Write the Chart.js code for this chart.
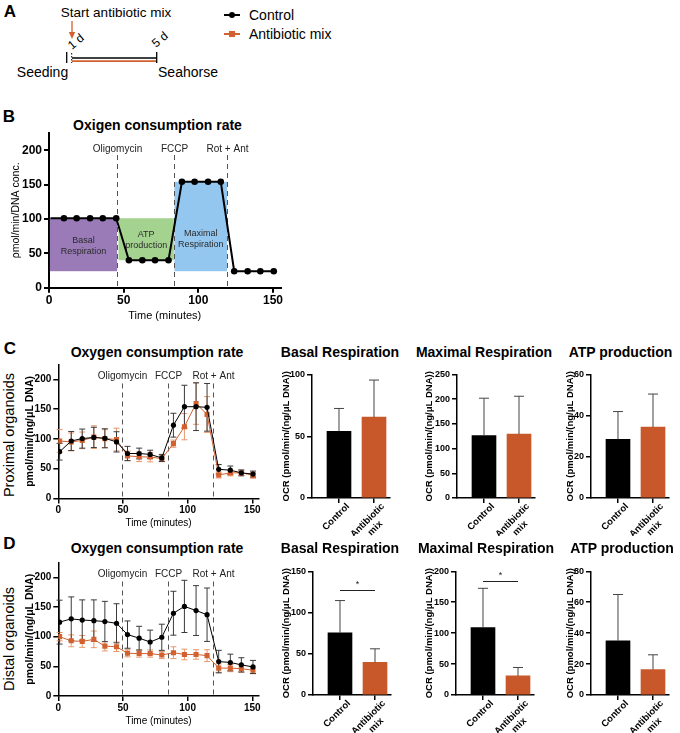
<!DOCTYPE html>
<html>
<head>
<meta charset="utf-8">
<title>Oxygen consumption rate - organoids</title>
<script src="https://cdn.jsdelivr.net/npm/chart.js@4.4.1/dist/chart.umd.min.js"></script>
<style>
  body { margin: 0; background: #fff; font-family: "Liberation Sans", Arial, sans-serif; color: #000; }
  #page { position: relative; width: 680px; height: 733px; overflow: hidden; }
  canvas { position: absolute; }
  .t { position: absolute; transform: translate(-50%, -50%); white-space: nowrap; line-height: 1; }
  .panel { font-weight: bold; font-size: 17px; }
  .title { font-weight: bold; font-size: 14px; }
  .side { font-size: 14.5px; transform: translate(-50%, -50%) rotate(-90deg); }
  .note { font-size: 13.5px; }
  #legend { position: absolute; left: 224px; top: 5.5px; font-size: 14px; }
  #legend div { height: 19px; display: flex; align-items: center; }
  #legend svg { margin-right: 9px; }
</style>
</head>
<body>
<div id="page">
  <!-- A: schema -->
  <div class="t panel" style="left:10px;top:11px">A</div>
  <div class="t note" style="left:116px;top:13px">Start antibiotic mix</div>
  <svg style="position:absolute;left:0;top:0" width="220" height="90">
    <line x1="72" y1="21" x2="72" y2="33" stroke="#d2612f" stroke-width="1.3"/>
    <polygon points="68.8,32 75.2,32 72,39" fill="#d2612f"/>
    <line x1="66.7" y1="52" x2="66.7" y2="63" stroke="#000" stroke-width="1.3"/>
    <line x1="71.7" y1="53" x2="71.7" y2="63" stroke="#000" stroke-width="1" stroke-dasharray="1.5 1.5"/>
    <line x1="72" y1="58" x2="156.7" y2="58" stroke="#000" stroke-width="1.4"/>
    <line x1="72" y1="61.2" x2="156.7" y2="61.2" stroke="#d2612f" stroke-width="1.8"/>
    <line x1="156.7" y1="52" x2="156.7" y2="63" stroke="#000" stroke-width="1.3"/>
    <text transform="translate(72,50) rotate(-40)" font-size="12" font-family="Liberation Sans, Arial">1 d</text>
    <text transform="translate(156,48) rotate(-40)" font-size="12" font-family="Liberation Sans, Arial">5 d</text>
  </svg>
  <div class="t" style="left:42.5px;top:72px;font-size:14px">Seeding</div>
  <div class="t" style="left:188px;top:72px;font-size:14px">Seahorse</div>
  <div id="legend"></div>

  <!-- B -->
  <div class="t panel" style="left:9px;top:116px">B</div>
  <div class="t title" style="left:157.5px;top:125px">Oxigen consumption rate</div>
  <canvas id="modelChart"></canvas>

  <!-- C -->
  <div class="t panel" style="left:10px;top:347.5px">C</div>
  <div class="t title" style="left:157px;top:352px">Oxygen consumption rate</div>
  <div class="t title" style="left:340px;top:352px">Basal Respiration</div>
  <div class="t title" style="left:484px;top:352px">Maximal Respiration</div>
  <div class="t title" style="left:620.5px;top:352px">ATP production</div>
  <div class="t side" style="left:9px;top:435px">Proximal organoids</div>
  <canvas id="proxLine"></canvas>
  <canvas id="proxBasal"></canvas>
  <canvas id="proxMax"></canvas>
  <canvas id="proxAtp"></canvas>

  <!-- D -->
  <div class="t panel" style="left:9.5px;top:542.5px">D</div>
  <div class="t title" style="left:157px;top:548px">Oxygen consumption rate</div>
  <div class="t title" style="left:340px;top:548px">Basal Respiration</div>
  <div class="t title" style="left:486px;top:548px">Maximal Respiration</div>
  <div class="t title" style="left:622px;top:548px">ATP production</div>
  <div class="t side" style="left:9px;top:639px">Distal organoids</div>
  <canvas id="distLine"></canvas>
  <canvas id="distBasal"></canvas>
  <canvas id="distMax"></canvas>
  <canvas id="distAtp"></canvas>
</div>

<script>
Chart.defaults.font.family = '"Liberation Sans", Arial, sans-serif';
Chart.defaults.color = '#000';

// Series
const seriesNames = ['Control', 'Antibiotic mix'];
const seriesColors = ['#000000', '#d2612f'];
const errColors = ['#3a3a3a', '#e8976c'];
const barColors = ['#000000', '#c8572a'];
const groups = ['Control', ['Antibiotic', 'mix']];

// Injections
const injectionLabels = ['Oligomycin', 'FCCP', 'Rot + Ant'];
const injectionB = [45.5, 84, 119];
const injectionCD = [49.5, 84.5, 119.5];

// Measurement times (minutes)
const timeMin = [1, 10, 18.5, 27.5, 36, 45, 53.5, 62.5, 71, 80, 89, 97.5, 106.5, 115, 124, 133, 141.5, 150.5];

// B: schematic profile
const modelOCR = [101, 101, 101, 101, 101, 101, 40, 40, 40, 40, 154, 154, 154, 154, 24, 24, 24, 24];
const phaseNames = [['Basal', 'Respiration'], ['ATP', 'production'], ['Maximal', 'Respiration']];
const phaseColors = ['#9a7bb8', '#a3d38f', '#94c7ef'];
const phaseStart = [0.6, 46.5, 84];
const phaseEnd = [45.6, 83.6, 119.2];
const phaseLow = [24, 40, 24];
const phaseHigh = [101, 101, 154];
const phaseLabelY = [60, 70, 71];

// C: proximal organoids
const proxCtrl = [78.5, 96.5, 100.5, 102.5, 101, 95, 75.5, 75.5, 74, 68, 123, 154, 154, 153, 49, 47.5, 43, 41];
const proxCtrlErr = [14, 16, 16, 17, 16, 17, 12, 9, 7, 6, 20, 36, 40, 40, 8, 7, 5, 5];
const proxAbx = [96.5, 95, 97.5, 103, 100.5, 99, 71.5, 70, 69.5, 67, 92, 120.5, 159.5, 141, 39.5, 43, 43, 39];
const proxAbxErr = [19, 15, 14, 19, 15, 19, 8, 8, 8, 5, 6, 22, 35, 30, 5, 5, 4, 5];

// D: distal organoids
const distCtrl = [124.5, 130, 128, 127, 125.5, 122.5, 103.5, 97.5, 91, 99, 139.5, 151, 144, 137, 58, 56.5, 52.5, 49];
const distCtrlErr = [37, 37, 34, 35, 34, 33, 23, 20, 20, 22, 37, 44, 42, 45, 19, 14, 12, 11];
const distAbx = [100, 93, 92, 95.5, 84, 83, 72, 71.5, 71.5, 69, 73, 70, 70, 68, 47, 47, 46, 43.5];
const distAbxErr = [7, 10, 10, 14, 8, 8, 6, 6, 6, 6, 10, 9, 8, 10, 7, 6, 6, 6];

// Bar summaries (mean, SD)
const proxBasal = [54, 65.5], proxBasalErr = [18.5, 30];
const proxMax = [126.5, 129.5], proxMaxErr = [75.5, 76.5];
const proxAtp = [28.5, 34.5], proxAtpErr = [13.5, 16];
const distBasal = [75.5, 39.5], distBasalErr = [39, 16.5];
const distMax = [109, 31], distMaxErr = [63.5, 13.5];
const distAtp = [35, 16.5], distAtpErr = [30, 9.5];
const distBasalSig = 127, distMaxSig = 185;

// legend
const legend = document.getElementById('legend');
seriesNames.forEach((name, k) => {
  const c = seriesColors[k];
  const mark = k ? `<rect x="5" y="2" width="6" height="6" fill="${c}"/>` : `<circle cx="8" cy="5" r="3" fill="${c}"/>`;
  const row = document.createElement('div');
  row.innerHTML = `<svg width="16" height="10"><line x1="0" y1="5" x2="16" y2="5" stroke="${c}" stroke-width="2"/>${mark}</svg><span>${name}</span>`;
  legend.appendChild(row);
});

// ---------- helpers ----------
function place(id, box) {
  const c = document.getElementById(id);
  c.width = box.w; c.height = box.h;
  c.style.left = box.x + 'px'; c.style.top = box.y + 'px';
  return c;
}

// fix the plot area inside the canvas
function frame(box, area) {
  return {
    padding: { left: 0, top: area.top - box.y, right: box.x + box.w - area.right, bottom: 0 },
    yFit: s => { s.width = area.left - box.x; s.paddingTop = 0; s.paddingBottom = 0; },
    xFit: s => { s.height = box.y + box.h - area.bottom; s.paddingLeft = 0; s.paddingRight = 0; }
  };
}

const errorBars = {
  id: 'errorBars',
  beforeDatasetsDraw(chart) { drawErrors(chart, false); },
  afterDatasetsDraw(chart) { drawErrors(chart, true); }
};

function drawErrors(chart, onTop) {
  const { ctx, scales: { y } } = chart;
  ctx.save();
  for (let di = chart.data.datasets.length - 1; di >= 0; di--) {
    const ds = chart.data.datasets[di];
    if (!ds.errors || !!ds.errOnTop !== onTop) continue;
    const meta = chart.getDatasetMeta(di);
    ctx.strokeStyle = ds.errColor;
    ctx.lineWidth = ds.errWidth || 1;
    meta.data.forEach((el, i) => {
      const v = ds.data[i].y, e = ds.errors[i];
      const top = y.getPixelForValue(v + e);
      const bot = ds.errUpOnly ? el.y : y.getPixelForValue(v - e);
      const w = ds.capWidth / 2;
      ctx.beginPath();
      ctx.moveTo(el.x, top); ctx.lineTo(el.x, bot);
      ctx.moveTo(el.x - w, top); ctx.lineTo(el.x + w, top);
      if (!ds.errUpOnly) { ctx.moveTo(el.x - w, bot); ctx.lineTo(el.x + w, bot); }
      ctx.stroke();
    });
  }
  ctx.restore();
}

function injectionPlugin(times, lineTop, labelY, withPhases) {
  return {
    id: 'injections',
    beforeDatasetsDraw(chart) {
      const { ctx, scales: { x, y } } = chart;
      ctx.save();
      if (withPhases) {
        phaseStart.forEach((s, i) => {
          const l = x.getPixelForValue(s), r = x.getPixelForValue(phaseEnd[i]);
          const t = y.getPixelForValue(phaseHigh[i]), b = y.getPixelForValue(phaseLow[i]);
          ctx.fillStyle = phaseColors[i];
          ctx.fillRect(l, t, r - l, b - t);
          ctx.fillStyle = '#2a2a2a';
          ctx.font = '9px "Liberation Sans", Arial';
          ctx.textAlign = 'center'; ctx.textBaseline = 'middle';
          const cx = (l + r) / 2, cy = y.getPixelForValue(phaseLabelY[i]);
          phaseNames[i].forEach((line, j) => ctx.fillText(line, cx, cy + (j - 0.5) * 11));
        });
      }
      ctx.strokeStyle = '#555'; ctx.lineWidth = 1; ctx.setLineDash([5, 4]);
      ctx.fillStyle = '#222'; ctx.font = '10px "Liberation Sans", Arial';
      ctx.textAlign = 'center'; ctx.textBaseline = 'middle';
      times.forEach((tm, i) => {
        const px = Math.round(x.getPixelForValue(tm)) + 0.5;
        ctx.beginPath();
        ctx.moveTo(px, y.getPixelForValue(lineTop));
        ctx.lineTo(px, y.getPixelForValue(0));
        ctx.stroke();
        ctx.fillText(injectionLabels[i], px, y.getPixelForValue(labelY));
      });
      ctx.restore();
    }
  };
}

function sigPlugin(level) {
  return {
    id: 'sig',
    afterDatasetsDraw(chart) {
      if (level == null) return;
      const { ctx, scales: { x, y } } = chart;
      const py = Math.round(y.getPixelForValue(level)) + 0.5;
      const x1 = x.getPixelForValue(1), x2 = x.getPixelForValue(2);
      ctx.save();
      ctx.strokeStyle = '#222'; ctx.lineWidth = 1;
      ctx.beginPath(); ctx.moveTo(x1, py); ctx.lineTo(x2, py); ctx.stroke();
      ctx.fillStyle = '#222'; ctx.font = '9px "Liberation Sans", Arial';
      ctx.textAlign = 'center'; ctx.textBaseline = 'bottom';
      ctx.fillText('*', (x1 + x2) / 2, py - 1);
      ctx.restore();
    }
  };
}

// rotated group names under the bars (drawn here so they don't shrink the plot)
const groupLabels = {
  id: 'groupLabels',
  afterDraw(chart) {
    const { ctx, scales: { x } } = chart;
    ctx.save();
    ctx.font = 'bold 9.5px "Liberation Sans", Arial';
    ctx.fillStyle = '#000'; ctx.textBaseline = 'middle';
    groups.forEach((g, i) => {
      const lines = [].concat(g);
      ctx.save();
      ctx.translate(x.getPixelForValue(i + 1) + 9, x.top + 7);
      ctx.rotate(-Math.PI / 4);
      ctx.textAlign = 'right';
      ctx.fillText(lines[0], 0, 0);
      const w0 = ctx.measureText(lines[0]).width;
      ctx.textAlign = 'center';
      lines.slice(1).forEach((ln, j) => ctx.fillText(ln, -w0 / 2, 11 * (j + 1)));
      ctx.restore();
    });
    ctx.restore();
  }
};

function axisLines(width) {
  return {
    grid: { drawOnChartArea: false, offset: false, tickLength: 5, color: '#000', lineWidth: width },
    border: { color: '#000', width: width }
  };
}

function series(vals, errs, k) {
  return {
    label: seriesNames[k],
    data: timeMin.map((t, i) => ({ x: t, y: vals[i] })),
    errors: errs, errColor: errColors[k], capWidth: 6,
    borderColor: seriesColors[k], backgroundColor: seriesColors[k],
    borderWidth: 1, tension: 0,
    pointStyle: k ? 'rect' : 'circle', pointRadius: k ? 3.6 : 2.6, pointBorderWidth: 0
  };
}

function lineChart(id, box, area, datasets, o) {
  const f = frame(box, area);
  return new Chart(place(id, box), {
    type: 'line',
    data: { datasets },
    options: {
      responsive: false, animation: false,
      layout: { padding: f.padding },
      plugins: { legend: { display: false }, tooltip: { enabled: false } },
      scales: {
        x: Object.assign({
          type: 'linear', min: 0, max: 155,
          ticks: { stepSize: 50, includeBounds: false, maxRotation: 0, padding: 1, font: { size: o.tick, weight: 'bold' } },
          title: { display: true, text: 'Time (minutes)', font: { size: o.xTitle }, padding: { top: 0, bottom: o.xTitlePad } },
          afterFit: f.xFit
        }, axisLines(o.axisW)),
        y: Object.assign({
          min: 0, max: 225,
          ticks: { stepSize: 50, includeBounds: false, padding: 2, font: { size: o.tick, weight: 'bold' } },
          title: { display: true, text: o.yTitle, font: { size: o.yTitleSize, weight: o.yTitleWeight }, padding: { top: o.yTitlePad, bottom: 0 } },
          afterFit: f.yFit
        }, axisLines(o.axisW))
      }
    },
    plugins: [injectionPlugin(o.times, 193, o.labelY, o.phases), errorBars]
  });
}

function barChart(id, box, area, vals, errs, yMax, yStep, yTitlePad, sig) {
  const f = frame(box, area);
  return new Chart(place(id, box), {
    type: 'bar',
    data: {
      datasets: [{
        data: vals.map((v, i) => ({ x: i + 1, y: v })),
        errors: errs, errUpOnly: true, errOnTop: true, errColor: '#444', capWidth: 10,
        backgroundColor: barColors, barThickness: 24, borderWidth: 0
      }]
    },
    options: {
      responsive: false, animation: false,
      layout: { padding: f.padding },
      plugins: { legend: { display: false }, tooltip: { enabled: false } },
      scales: {
        x: Object.assign({
          type: 'linear', min: 0.229, max: 2.457, offset: false,
          afterBuildTicks: s => { s.ticks = groups.map((g, i) => ({ value: i + 1 })); },
          ticks: { display: false },
          afterFit: f.xFit
        }, axisLines(1.5)),
        y: Object.assign({
          min: 0, max: yMax,
          ticks: { stepSize: yStep, padding: 2, font: { size: 9, weight: 'bold' } },
          title: { display: true, text: 'OCR (pmol/min/(ng/μL DNA))', font: { size: 9.5, weight: 'bold' }, padding: { top: yTitlePad, bottom: 0 } },
          afterFit: f.yFit
        }, axisLines(1.5))
      }
    },
    plugins: [errorBars, sigPlugin(sig), groupLabels]
  });
}

// ---------- B ----------
const modelSet = series(modelOCR, null, 0);
Object.assign(modelSet, { borderWidth: 2, pointRadius: c => c.dataIndex === 0 ? 0 : 3.3, errors: null });
lineChart('modelChart', { x: 0, y: 128, w: 300, h: 200 }, { left: 49, top: 133, right: 280.5, bottom: 287.7 }, [modelSet],
  { tick: 12, xTitle: 11, xTitlePad: 5.4, axisW: 2, yTitle: 'ρmol/min/DNA conc.', yTitleSize: 10.5, yTitleWeight: 'normal',
    yTitlePad: 9.7, times: injectionB, labelY: 202, phases: true });

// ---------- C ----------
lineChart('proxLine', { x: 0, y: 358, w: 275, h: 174 }, { left: 58.3, top: 364.4, right: 258.8, bottom: 498.5 },
  [series(proxCtrl, proxCtrlErr, 0), series(proxAbx, proxAbxErr, 1)],
  { tick: 10, xTitle: 10, xTitlePad: 3, axisW: 1.5, yTitle: 'pmol/min/(ng/μL DNA)', yTitleSize: 10.5, yTitleWeight: 'bold',
    yTitlePad: 23.7, times: injectionCD, labelY: 205.5, phases: false });

barChart('proxBasal', { x: 272, y: 356, w: 130, h: 180 }, { left: 312, top: 374.5, right: 390, bottom: 498 }, proxBasal, proxBasalErr, 100, 50, 8.3, null);
barChart('proxMax', { x: 418, y: 356, w: 126, h: 180 }, { left: 457, top: 374.5, right: 535, bottom: 498 }, proxMax, proxMaxErr, 250, 50, 5.3, null);
barChart('proxAtp', { x: 558, y: 356, w: 122, h: 180 }, { left: 591, top: 374.5, right: 669, bottom: 498 }, proxAtp, proxAtpErr, 60, 20, 6.3, null);

// ---------- D ----------
lineChart('distLine', { x: 0, y: 556, w: 275, h: 174 }, { left: 58.3, top: 562.5, right: 258.8, bottom: 696 },
  [series(distCtrl, distCtrlErr, 0), series(distAbx, distAbxErr, 1)],
  { tick: 10, xTitle: 10, xTitlePad: 3, axisW: 1.5, yTitle: 'pmol/min/(ng/μL DNA)', yTitleSize: 10.5, yTitleWeight: 'bold',
    yTitlePad: 23.7, times: injectionCD, labelY: 205.5, phases: false });

barChart('distBasal', { x: 272, y: 553, w: 130, h: 180 }, { left: 313, top: 571.3, right: 391, bottom: 695 }, distBasal, distBasalErr, 150, 50, 8.3, distBasalSig);
barChart('distMax', { x: 418, y: 553, w: 126, h: 180 }, { left: 456, top: 571.3, right: 534, bottom: 695 }, distMax, distMaxErr, 200, 50, 5.3, distMaxSig);
barChart('distAtp', { x: 558, y: 553, w: 122, h: 180 }, { left: 591, top: 571.3, right: 669, bottom: 695 }, distAtp, distAtpErr, 80, 20, 6.3, null);
</script>
</body>
</html>
